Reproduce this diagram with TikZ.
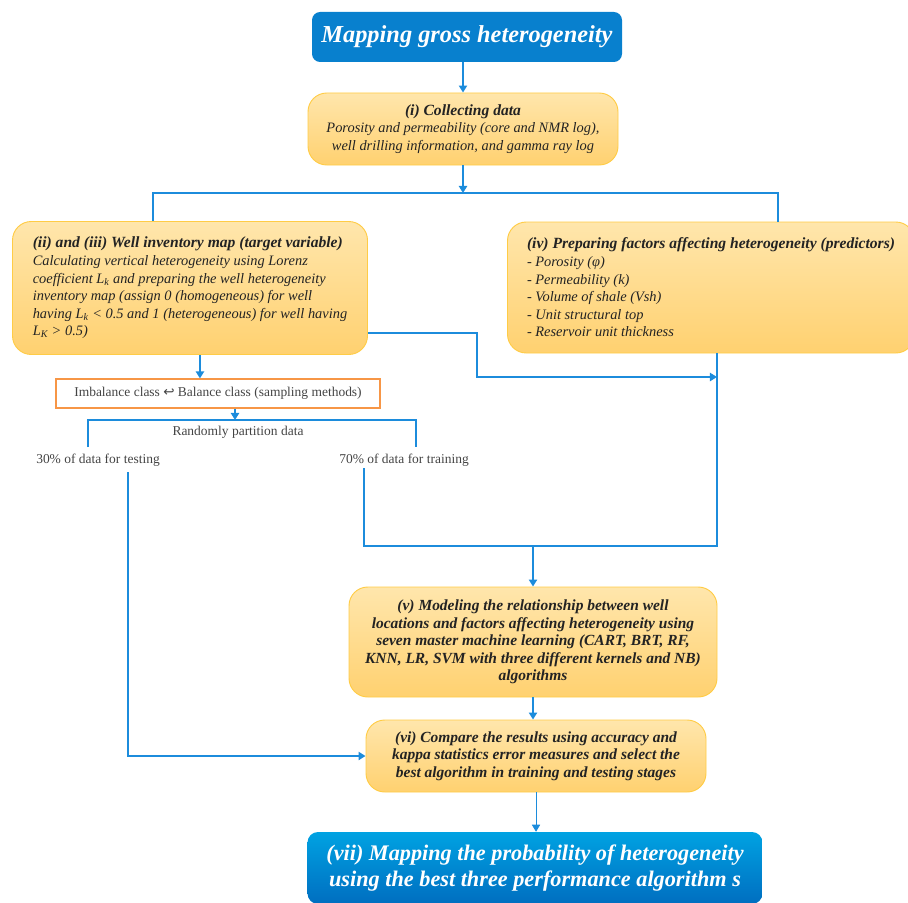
\documentclass[tikz,border=0pt]{standalone}
\usepackage{fontspec}
\setmainfont{Liberation Serif}
\newfontfamily\symfont{DejaVu Sans}
\usetikzlibrary{arrows.meta}

\definecolor{flowblue}{RGB}{28,140,220}
\definecolor{headblue}{RGB}{8,128,206}
\definecolor{lightblue}{RGB}{0,162,226}
\definecolor{darkblue}{RGB}{0,110,192}
\definecolor{paletop}{RGB}{255,230,172}
\definecolor{palebot}{RGB}{255,209,112}
\definecolor{goldrim}{RGB}{255,204,70}
\definecolor{orangerim}{RGB}{247,150,70}
\definecolor{inktext}{RGB}{35,35,35}

\newcommand{\stagebf}[1]{{\fontsize{13.3}{15}\selectfont\bfseries #1}}

\tikzset{
    link/.style={draw=flowblue, line width=1.6pt},
    arr/.style={link, -{Triangle[width=7pt,length=6pt]}},
    stagebox/.style={draw=goldrim, line width=0.8pt, rounded corners=16pt,
        top color=paletop, bottom color=palebot, text=inktext,
        font=\fontsize{12.3}{15}\selectfont\itshape, inner sep=0pt},
    boldstage/.style={stagebox, font=\fontsize{13.2}{15}\selectfont\bfseries\itshape},
    bluebox/.style={draw=none, text=white, inner sep=0pt,
        font=\fontsize{19}{23}\selectfont\bfseries\itshape},
    plain/.style={text=inktext!85, font=\fontsize{11.5}{13}\selectfont, inner sep=0pt}
}

\begin{document}
\begin{tikzpicture}[x=0.03cm, y=-0.03cm]
    \useasboundingbox (0,0) rectangle (908,902);

    % main stages
    \node[bluebox, fill=headblue, rounded corners=7pt, minimum width=310*0.03cm, minimum height=50*0.03cm,
        font=\fontsize{20.8}{23}\selectfont\bfseries\itshape] (head) at (467,37) {Mapping gross heterogeneity};

    \node[stagebox, align=center, minimum width=310*0.03cm, minimum height=72*0.03cm] (collect) at (463,129)
        {\stagebf{(i) Collecting data}\\Porosity and permeability (core and NMR log),\\well drilling information, and gamma ray log};

    \node[stagebox, align=left, minimum width=355*0.03cm, minimum height=133*0.03cm] (well) at (190,288)
        {\stagebf{(ii) and (iii) Well inventory map (target variable)}\\
        Calculating vertical heterogeneity using Lorenz\\
        coefficient L\textsubscript{k} and preparing the well heterogeneity\\
        inventory map (assign 0 (homogeneous) for well\\
        having L\textsubscript{k} < 0.5 and 1 (heterogeneous) for well having\\
        L\textsubscript{K} > 0.5)};

    \node[stagebox, align=left, minimum width=407*0.03cm, minimum height=131*0.03cm] (pred) at (711,287.5)
        {\stagebf{(iv) Preparing factors affecting heterogeneity (predictors)}\\
        - Porosity (φ)\\
        - Permeability (k)\\
        - Volume of shale (Vsh)\\
        - Unit structural top\\
        - Reservoir unit thickness};

    \node[plain, draw=orangerim, line width=1pt, fill=white, minimum width=324*0.03cm, minimum height=29*0.03cm]
        (imbal) at (218,393.5) {Imbalance class {\symfont ↩} Balance class (sampling methods)};

    \node[plain] (partition) at (238,432) {Randomly partition data};
    \node[plain] (test) at (98,460) {30\% of data for testing};
    \node[plain] (train) at (404,460) {70\% of data for training};

    \node[boldstage, align=center, minimum width=368*0.03cm, minimum height=110*0.03cm] (model) at (533,642)
        {(v) Modeling the relationship between well\\
        locations and factors affecting heterogeneity using\\
        seven master machine learning (CART, BRT, RF,\\
        KNN, LR, SVM with three different kernels and NB)\\
        algorithms};

    \node[boldstage, align=center, minimum width=340*0.03cm, minimum height=72*0.03cm] (compare) at (536,756)
        {(vi) Compare the results using accuracy and\\
        kappa statistics error measures and select the\\
        best algorithm in training and testing stages};

    \node[bluebox, align=center, rounded corners=9pt, top color=lightblue, bottom color=darkblue,
        minimum width=455*0.03cm, minimum height=72*0.03cm] (final) at (535,868)
        {(vii) Mapping the probability of heterogeneity\\using the best three performance algorithm s};

    % junctions
    \coordinate (split) at (465,193);
    \coordinate (lsplit) at (153,193);
    \coordinate (rsplit) at (778,193);
    \coordinate (bend) at (477,333);
    \coordinate (join) at (717,377);
    \coordinate (merge) at (717,546);
    \coordinate (trainleg) at (364,468);
    \coordinate (fork) at (235,420);
    \coordinate (testtop) at (88,447);
    \coordinate (traintop) at (416,447);
    \coordinate (testleg) at (128,472);

    \draw[arr] (head.south -| collect.south) -- (collect.north);
    \draw[arr] (collect.south) -- (collect.south |- split);
    \draw[link] (lsplit |- well.north) -- (lsplit) -- (rsplit) -- (rsplit |- pred.north);

    \draw[arr] (well.east |- bend) -- (bend) |- (join);
    \draw[link] (join |- pred.south) -- (merge) -| (trainleg);
    \draw[arr] (model.north |- merge) -- (model.north);

    \draw[arr] ([xshift=8.5pt]well.south) -- ([xshift=8.5pt]well.south |- imbal.north);
    \draw[arr] (imbal.south -| fork) -- (fork);
    \draw[link] (testtop) |- (fork) -| (traintop);

    \draw[arr] (testleg) |- (compare.west);
    \draw[arr] (model.south) -- (model.south |- compare.north);
    \draw[arr, line width=0.7pt] (compare.south) -- (compare.south |- final.north);
\end{tikzpicture}
\end{document}
